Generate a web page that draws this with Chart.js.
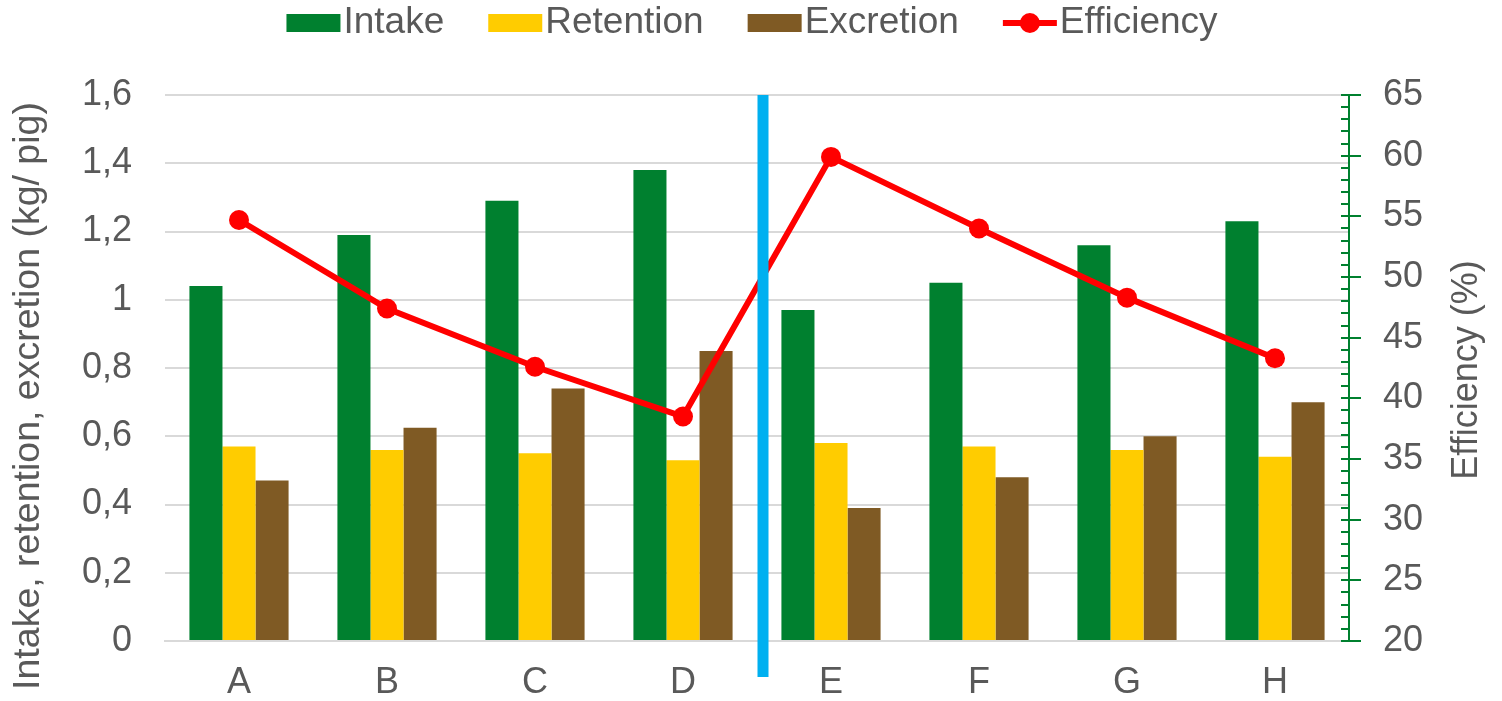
<!DOCTYPE html>
<html>
<head>
<meta charset="utf-8">
<script src="https://cdn.jsdelivr.net/npm/chart.js@4"></script>
<style>
  html, body { margin: 0; padding: 0; background: #fff; }
  #wrap { width: 1502px; height: 701px; }
</style>
</head>
<body>
<div id="wrap"><canvas id="chart"></canvas></div>
<script>
// ===== DATA =====
const categories = ['A', 'B', 'C', 'D', 'E', 'F', 'G', 'H'];
const intake     = [1.04, 1.19, 1.29, 1.38, 0.97, 1.05, 1.16, 1.23];
const retention  = [0.57, 0.56, 0.55, 0.53, 0.58, 0.57, 0.56, 0.54];
const excretion  = [0.47, 0.625, 0.74, 0.85, 0.39, 0.48, 0.60, 0.70];
const efficiency = [54.7, 47.4, 42.6, 38.5, 59.9, 54.0, 48.3, 43.3];
const legendOrder = ['Intake', 'Retention', 'Excretion', 'Efficiency'];
const leftTitle  = 'Intake, retention, excretion (kg/ pig)';
const rightTitle = 'Efficiency (%)';

const TXT   = '#595959';
const GREEN = '#00802f';
const FONT  = 'Liberation Sans, Arial, sans-serif';

// ===== HELPER: teks vertikal (dibaca dari bawah ke atas) =====
function vText(c, text, x, y, size) {
  c.save();
  c.translate(x, y);
  c.rotate(-Math.PI / 2);
  c.font = `${size}px ${FONT}`;
  c.fillStyle = TXT;
  c.textAlign = 'center';
  c.textBaseline = 'middle';
  c.fillText(text, 0, 0);
  c.restore();
}

// ===== PLUGIN: legend, judul sumbu, garis biru, minor tick =====
const extras = {
  id: 'extras',
  afterDraw(chart) {
    const c    = chart.ctx;
    const x    = chart.scales.x;
    const yR   = chart.scales.yEff;
    const area = chart.chartArea;

    // --- minor + major ticks sumbu kanan ---
    c.save();
    c.strokeStyle = GREEN;
    c.lineWidth = 2;
    for (let v = yR.min; v <= yR.max; v += 1) {
      const py = Math.round(yR.getPixelForValue(v));
      const major = v % 5 === 0;
      c.beginPath();
      c.moveTo(area.right - 8, py);
      c.lineTo(area.right + (major ? 12 : 0), py);
      c.stroke();
    }
    c.beginPath();
    c.moveTo(area.right, area.top);
    c.lineTo(area.right, area.bottom);
    c.stroke();
    c.restore();

    // --- garis vertikal biru antara D dan E ---
    const px = x.getPixelForValue(3.5) + 6;
    c.save();
    c.fillStyle = '#00b0f0';
    c.fillRect(px - 5.5, area.top, 11, area.bottom - area.top + 36);
    c.restore();

    // --- judul sumbu ---
    vText(c, leftTitle, 29, 396, 37.5);
    vText(c, rightTitle, 1467, 370, 36);

    // --- legend ---
    c.save();
    c.font = `37px ${FONT}`;
    c.textBaseline = 'middle';
    const boxW = 54, gap = 3, itemGap = 44, ly = 23;
    const items = legendOrder.map(name => {
      const ds = chart.data.datasets.find(d => d.label === name);
      return { ds, w: boxW + gap + c.measureText(name).width };
    });
    const total = items.reduce((s, it) => s + it.w, 0) + itemGap * (items.length - 1);
    let lx = 752 - total / 2;
    items.forEach(it => {
      const ds = it.ds;
      if (ds.type === 'line') {
        c.strokeStyle = ds.borderColor;
        c.lineWidth = 6;
        c.beginPath();
        c.moveTo(lx, ly);
        c.lineTo(lx + boxW, ly);
        c.stroke();
        c.fillStyle = ds.borderColor;
        c.beginPath();
        c.arc(lx + boxW / 2, ly, 10, 0, Math.PI * 2);
        c.fill();
      } else {
        c.fillStyle = ds.backgroundColor;
        c.fillRect(lx, ly - 9, boxW, 18);
      }
      c.fillStyle = TXT;
      c.fillText(ds.label, lx + boxW + gap, ly);
      lx += it.w + itemGap;
    });
    c.restore();
  }
};

const ctx = document.getElementById('chart').getContext('2d');

new Chart(ctx, {
  data: {
    labels: categories,
    datasets: [
      {
        type: 'line',
        label: 'Efficiency',
        data: efficiency,
        yAxisID: 'yEff',
        borderColor: '#ff0000',
        backgroundColor: '#ff0000',
        borderWidth: 6,
        pointRadius: 10,
        pointBackgroundColor: '#ff0000',
        pointBorderWidth: 0,
        tension: 0,
        order: 0,
      },
      {
        type: 'bar',
        label: 'Intake',
        data: intake,
        yAxisID: 'y',
        backgroundColor: GREEN,
        categoryPercentage: 0.67,
        barPercentage: 1,
        order: 1,
      },
      {
        type: 'bar',
        label: 'Retention',
        data: retention,
        yAxisID: 'y',
        backgroundColor: '#ffcc00',
        categoryPercentage: 0.67,
        barPercentage: 1,
        order: 1,
      },
      {
        type: 'bar',
        label: 'Excretion',
        data: excretion,
        yAxisID: 'y',
        backgroundColor: '#7f5a24',
        categoryPercentage: 0.67,
        barPercentage: 1,
        order: 1,
      },
    ],
  },
  options: {
    responsive: true,
    maintainAspectRatio: false,
    animation: false,
    layout: { padding: { top: 95, left: 0, right: 0, bottom: 0 } },
    plugins: {
      tooltip: { enabled: false },
      legend: { display: false },
    },
    scales: {
      x: {
        grid: { display: false, drawTicks: false },
        border: { display: true, color: '#d9d9d9', width: 2 },
        ticks: { color: TXT, font: { family: FONT, size: 36 }, padding: 20 },
        afterFit: s => { s.height = 60; },
      },
      y: {
        position: 'left',
        min: 0,
        max: 1.6,
        ticks: {
          stepSize: 0.2,
          color: TXT,
          font: { family: FONT, size: 36 },
          padding: 33,
          callback: v => String(Math.round(v * 10) / 10).replace('.', ','),
        },
        grid: { color: '#d9d9d9', lineWidth: 2, drawTicks: false },
        border: { display: false },
        afterFit: s => { s.width = 165; },
      },
      yEff: {
        position: 'right',
        min: 20,
        max: 65,
        ticks: {
          stepSize: 5,
          color: TXT,
          font: { family: FONT, size: 36 },
          padding: 34,
        },
        grid: { drawOnChartArea: false, drawTicks: false },
        border: { display: false },
        afterFit: s => { s.width = 153; },
      },
    },
  },
  plugins: [extras],
});
</script>
</body>
</html>
